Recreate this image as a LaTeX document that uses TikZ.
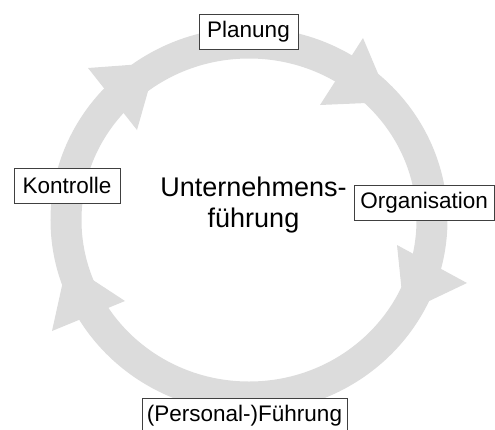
\documentclass[tikz,border=0pt]{standalone}
\usepackage{fontspec}
\setmainfont{Liberation Sans}
\begin{document}
\begin{tikzpicture}[x=1pt,y=-1pt,
  ringcol/.style={draw=ringgray,line width=31pt},
  headcol/.style={fill=ringgray},
  label/.style={draw=framegray,line width=0.9pt,fill=white,
    inner xsep=0pt,inner ysep=0pt,minimum height=35pt,
    font=\fontsize{22.5}{27}\selectfont},
  centre/.style={align=center,font=\fontsize{27}{31}\selectfont}]
\definecolor{ringgray}{RGB}{220,220,220}
\definecolor{framegray}{RGB}{64,64,64}
\useasboundingbox (0,0) rectangle (495,429);
\clip (0,0) rectangle (495,429);

% the cycle ring
\coordinate (O) at (249,220);
\draw[ringcol] (O) ellipse [x radius=183, y radius=177];

% arrowheads (two barbs and a tip each), running clockwise
\coordinate (a1) at (363,38);  \coordinate (b1) at (320,105); \coordinate (t1) at (390,102);
\coordinate (a2) at (397,245); \coordinate (b2) at (467,283); \coordinate (t2) at (404,313);
\coordinate (a3) at (125,301); \coordinate (b3) at (52,331);  \coordinate (t3) at (67,263);
\coordinate (a4) at (88,68);   \coordinate (b4) at (137,130); \coordinate (t4) at (156,63);
\foreach \i in {1,...,4}
  \fill[headcol] (a\i) -- (t\i) -- (b\i) -- cycle;

% phase labels
\node[label,minimum width=99pt]  (plan) at (248.5,31.5) {Planung};
\node[label,minimum width=106pt] (ktrl) at (67,185.5)   {Kontrolle};
\node[label,inner xsep=6pt,anchor=west] (orga) at (354,203) {Organisation};
\node[label,minimum width=205pt] (fuhr) at (244.5,415.5) {(Personal-)Führung};

% centre title
\node[centre] (title) at (253.5,205) {Unternehmens-\\führung};
\end{tikzpicture}
\end{document}
